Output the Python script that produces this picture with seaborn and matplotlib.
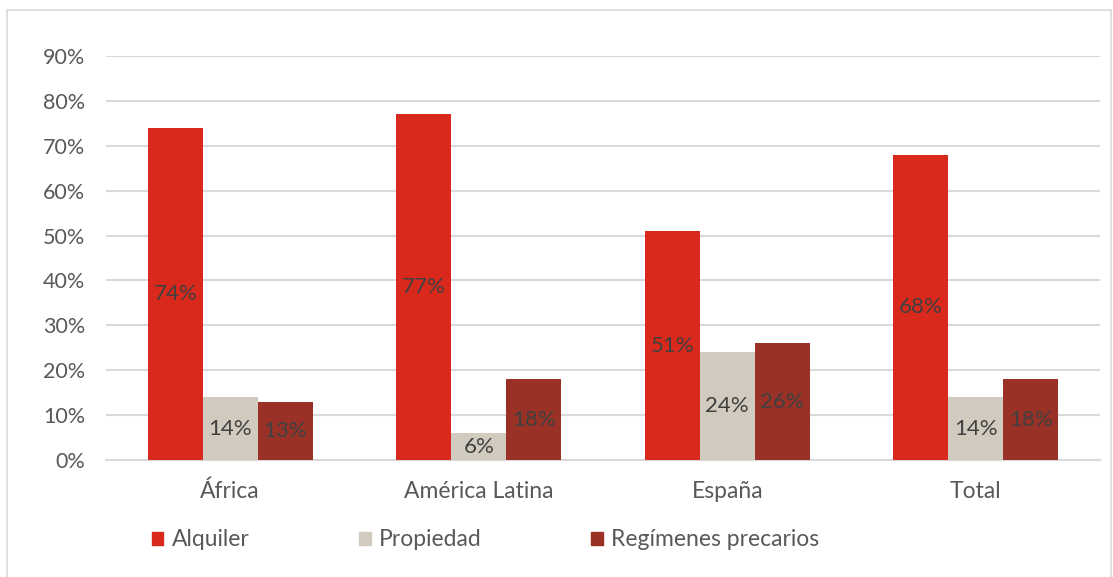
import matplotlib
matplotlib.use("Agg")
import matplotlib.pyplot as plt
import matplotlib.patches as mpatches
import pandas as pd
import seaborn as sns
from matplotlib.ticker import FuncFormatter

regiones = ["África", "América Latina", "España", "Total"]
regimenes = ["Alquiler", "Propiedad", "Regímenes precarios"]
alquiler = [74, 77, 51, 68]
propiedad = [14, 6, 24, 14]
precarios = [13, 18, 26, 18]
colores = ["#D9281C", "#D1CBBF", "#9A3126"]

df = pd.DataFrame({
    "region": regiones * 3,
    "regimen": [r for r in regimenes for _ in regiones],
    "valor": alquiler + propiedad + precarios,
})

sns.set_theme(style="white")
plt.rcParams["font.family"] = ["Lato", "DejaVu Sans"]

fig = plt.figure(figsize=(11.13, 5.77), dpi=100)
ax = fig.add_axes([106 / 1113, 1 - 460 / 577, (1100 - 106) / 1113, (460 - 56) / 577])

sns.barplot(data=df, x="region", y="valor", hue="regimen", palette=colores,
            width=0.664, gap=0, saturation=1, ax=ax, legend=False, zorder=3,
            linewidth=0)

for cont in ax.containers:
    ax.bar_label(cont, labels=[f"{v:.0f}%" for v in cont.datavalues],
                 label_type="center", fontsize=16, color="#404040")

ax.set_ylim(0, 90)
ax.set_yticks(range(0, 91, 10))
ax.yaxis.set_major_formatter(FuncFormatter(lambda v, p: f"{v:.0f}%"))
ax.grid(axis="y", color="#D9D9D9", linewidth=1.5, zorder=0)
ax.set_axisbelow(True)
for s in ["top", "right", "left"]:
    ax.spines[s].set_visible(False)
ax.spines["bottom"].set_color("#D9D9D9")
ax.spines["bottom"].set_linewidth(1.5)
ax.tick_params(axis="both", length=0, colors="#595959")
ax.tick_params(axis="x", labelsize=16.5, pad=15)
ax.tick_params(axis="y", labelsize=15.5, pad=15)
ax.set_xlabel("")
ax.set_ylabel("")

handles = [mpatches.Patch(color=c, label=l) for c, l in zip(colores, regimenes)]
leg = fig.legend(handles=handles, loc="center left", ncol=3, frameon=False,
                 bbox_to_anchor=(152 / 1113, 1 - 540 / 577), fontsize=16.5,
                 borderpad=0, borderaxespad=0,
                 handlelength=0.5, handleheight=0.5, handletextpad=0.35,
                 columnspacing=4.8, labelcolor="#595959")

fig.patches.append(mpatches.Rectangle((7 / 1113, -0.01), (1111 - 7) / 1113, 1 - 10 / 577 + 0.01,
                                      transform=fig.transFigure, fill=False,
                                      edgecolor="#D9D9D9", linewidth=1.2))

fig.savefig("out.png", dpi=100)
